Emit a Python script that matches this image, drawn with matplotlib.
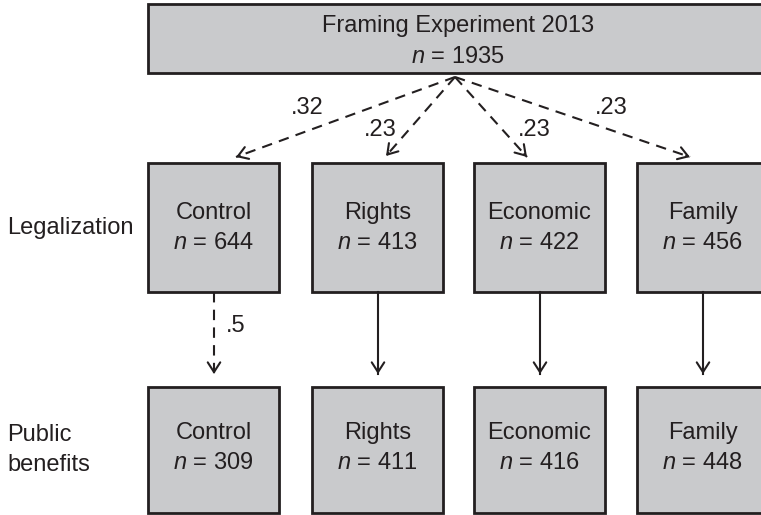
import matplotlib
matplotlib.use("Agg")
import matplotlib.pyplot as plt
from matplotlib.patches import Rectangle
from matplotlib import font_manager

# fonts: condensed look if available
names = {f.name for f in font_manager.fontManager.ttflist}
family = "Liberation Sans Narrow" if "Liberation Sans Narrow" in names else "Liberation Sans"
plt.rcParams['font.family'] = [family, 'DejaVu Sans']
plt.rcParams['mathtext.fontset'] = 'custom'
plt.rcParams['mathtext.rm'] = family
plt.rcParams['mathtext.it'] = family + ':italic'

# data
top_title = "Framing Experiment 2013"
top_n = 1935
conditions = ["Control", "Rights", "Economic", "Family"]
n_legalization = [644, 413, 422, 456]
n_benefits = [309, 411, 416, 448]
assign_probs = [".32", ".23", ".23", ".23"]
retain_labels = [".5", "", "", ""]
retain_dashed = [True, False, False, False]
row_labels = ["Legalization", "Public\nbenefits"]

# layout (pixel coords)
W, H = 761, 515
box_left = [148, 312, 474, 637]
box_w = 131
top_box = (148, 4, 620, 69)
mid_y, mid_h = 163, 129
bot_y, bot_h = 387, 126
apex = (455, 77)
diag_ends = [(236, 157), (386, 156), (527, 157), (690, 157)]
diag_label_pos = [(307, 108), (380, 130), (534, 130), (611, 108)]

fill = "#c9cacc"
edge = "#231f20"
fs = 17

fig = plt.figure(figsize=(W / 100, H / 100), dpi=100)
ax = fig.add_axes([0, 0, 1, 1])
ax.set_xlim(0, W)
ax.set_ylim(H, 0)
ax.axis("off")


def box(x, y, w, h):
    ax.add_patch(Rectangle((x, y), w, h, facecolor=fill, edgecolor=edge,
                           linewidth=2, clip_on=True))


def ntext(x, y, n):
    ax.text(x, y, f"$\\it{{n}}$ = {n}", ha="center", va="center",
            fontsize=fs, color=edge)


def arrow(p0, p1, dashed):
    if dashed:
        ax.plot([p0[0], p1[0]], [p0[1], p1[1]], color=edge, lw=1.5,
                linestyle=(0, (5, 3.5)))
    else:
        ax.plot([p0[0], p1[0]], [p0[1], p1[1]], color=edge, lw=1.5)
    dx, dy = p1[0] - p0[0], p1[1] - p0[1]
    L = (dx ** 2 + dy ** 2) ** 0.5
    q = (p1[0] - dx / L * 4, p1[1] - dy / L * 4)
    ax.annotate("", xy=p1, xytext=q,
                arrowprops=dict(arrowstyle="->,head_length=0.7,head_width=0.45",
                                color=edge, lw=1.5, shrinkA=0, shrinkB=0,
                                mutation_scale=10))


# top box
box(*top_box)
ax.text(458, 26, top_title, ha="center", va="center", fontsize=fs, color=edge)
ntext(458, 57, top_n)

# row labels
ax.text(7, 228, row_labels[0], ha="left", va="center", fontsize=fs, color=edge)
ax.text(7, 450, row_labels[1], ha="left", va="center", fontsize=fs, color=edge,
        linespacing=1.45)

for i, cond in enumerate(conditions):
    x = box_left[i]
    cx = x + box_w / 2
    box(x, mid_y, box_w, mid_h)
    ax.text(cx, 213, cond, ha="center", va="center", fontsize=fs, color=edge)
    ntext(cx, 243, n_legalization[i])

    box(x, bot_y, box_w, bot_h)
    ax.text(cx, 433, cond, ha="center", va="center", fontsize=fs, color=edge)
    ntext(cx, 463, n_benefits[i])

    # assignment arrows
    arrow(apex, diag_ends[i], True)
    ax.text(*diag_label_pos[i], assign_probs[i], ha="center", va="center",
            fontsize=fs, color=edge)

    # retention arrows
    vx = x + 66
    arrow((vx, mid_y + mid_h), (vx, 374), retain_dashed[i])
    if retain_labels[i]:
        ax.text(vx + 12, 326, retain_labels[i], ha="left", va="center",
                fontsize=fs, color=edge)

fig.savefig("out.png", dpi=100, facecolor="white")
